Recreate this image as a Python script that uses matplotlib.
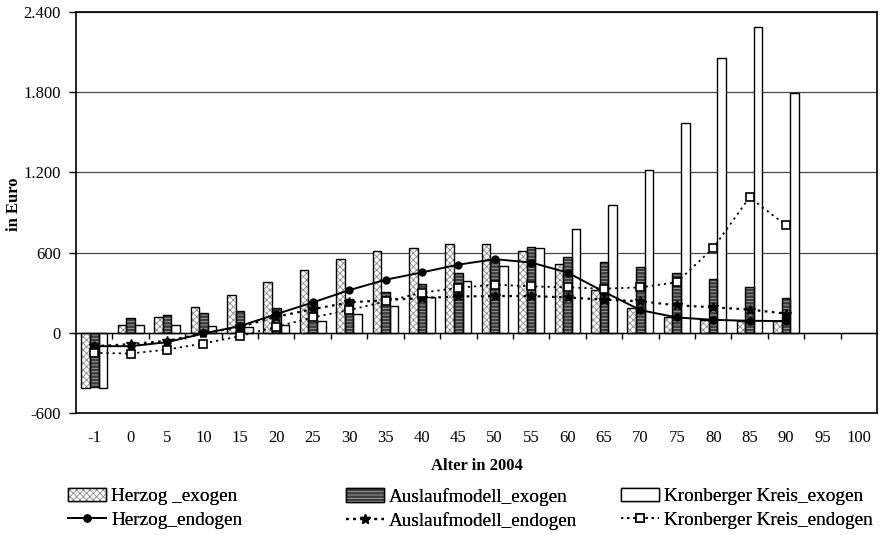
import numpy as np
import matplotlib
matplotlib.use("Agg")
import matplotlib.pyplot as plt
from matplotlib.patches import Patch
from matplotlib.legend_handler import HandlerTuple
from matplotlib.ticker import FuncFormatter

plt.rcParams['font.family'] = ['Liberation Serif', 'DejaVu Serif']
plt.rcParams['hatch.linewidth'] = 0.6

# age groups
ages = ['-1', '0', '5', '10', '15', '20', '25', '30', '35', '40', '45',
        '50', '55', '60', '65', '70', '75', '80', '85', '90', '95', '100']

nan = np.nan
# exogen (bars)
herzog_exo = [-415, 60, 116, 191, 284, 377, 467, 550, 612, 638, 662,
              668, 613, 518, 319, 185, 115, 95, 90, 90, nan, nan]
auslauf_exo = [-405, 110, 131, 146, 167, 184, 235, 250, 305, 367, 449,
               540, 643, 568, 533, 496, 451, 402, 346, 257, nan, nan]
kronberger_exo = [-415, 55, 55, 50, 40, 57, 88, 141, 199, 268, 386,
                  501, 633, 778, 958, 1220, 1568, 2055, 2287, 1792, nan, nan]
# endogen (lines)
herzog_endo = [-100, -100, -70, -5, 50, 140, 227, 319, 397, 452, 510,
               551, 526, 451, 307, 170, 115, 97, 90, 88, nan, nan]
auslauf_endo = [-100, -85, -60, -5, 45, 120, 177, 227, 245, 260, 272,
                275, 275, 265, 248, 236, 206, 191, 174, 144, nan, nan]
kronberger_endo = [-150, -155, -125, -80, -25, 45, 115, 170, 235, 300, 337,
                   360, 348, 340, 330, 340, 378, 634, 1014, 804, nan, nan]

x = np.arange(len(ages))
w = 0.236
fs = 12

fig = plt.figure(figsize=(8.81, 5.35), dpi=100)
ax = fig.add_axes([0.0863, 0.228, 0.9092, 0.7495])

# Herzog exogen: stippled
ax.bar(x - w, herzog_exo, w, color='white', hatch='xxxxx',
       edgecolor='#8a8a8a', linewidth=0, zorder=2)
ax.bar(x - w, herzog_exo, w, fill=False, edgecolor='black',
       linewidth=1.0, zorder=3)
# Auslaufmodell exogen: dark with stripes
ax.bar(x, auslauf_exo, w, color='#3c3c3c', hatch='-----',
       edgecolor='#a8a8a8', linewidth=0, zorder=2)
ax.bar(x, auslauf_exo, w, fill=False, edgecolor='black',
       linewidth=1.0, zorder=3)
# Kronberger Kreis exogen: empty
ax.bar(x + w, kronberger_exo, w, color='white', edgecolor='black',
       linewidth=1.0, zorder=2)

ln_h, = ax.plot(x, herzog_endo, '-', color='black', lw=1.4, marker='o',
                ms=5, zorder=5)
ln_a, = ax.plot(x, auslauf_endo, color='black', lw=1.6, ls=(0, (1.2, 2.0)),
                marker='*', ms=7, zorder=5)
ln_k, = ax.plot(x, kronberger_endo, color='black', lw=1.3, ls=(0, (1.2, 2.2)),
                marker='s', ms=6, mfc='white', mec='black', mew=1.2, zorder=5)

ax.set_xlim(-0.5, len(ages) - 0.5)
ax.set_ylim(-600, 2400)
ax.set_yticks([-600, 0, 600, 1200, 1800, 2400])
ax.yaxis.set_major_formatter(FuncFormatter(
    lambda v, p: f"{int(v):,}".replace(',', '.')))
ax.tick_params(axis='y', direction='out', length=5, width=1, labelsize=fs,
               pad=6)
ax.grid(axis='y', color='#4a4a4a', lw=0.9, zorder=0)
ax.set_axisbelow(True)

# zero line carries the category ticks
ax.spines['bottom'].set_position(('data', 0))
ax.spines['bottom'].set_linewidth(1.0)
ax.set_xticks([])
ax.set_xticks(x[:-1] + 0.5, minor=True)
ax.tick_params(axis='x', which='minor', direction='out', length=4, width=1)
for s in ['top', 'right', 'left']:
    ax.spines[s].set_linewidth(1.2)

sec = ax.secondary_xaxis('bottom')
sec.set_xticks(x)
sec.set_xticklabels(ages)
sec.tick_params(length=0, labelsize=fs, pad=12)
sec.spines['bottom'].set_linewidth(1.2)
sec.set_xlabel('Alter in 2004', fontsize=fs, fontweight='bold', labelpad=9)

ax.set_ylabel('in Euro', fontsize=fs, fontweight='bold')
ax.yaxis.set_label_coords(-0.067, 0.52)

h_patch = (Patch(facecolor='white', hatch='xxxxx', edgecolor='#8a8a8a', lw=0),
           Patch(fill=False, edgecolor='black', lw=1.0))
a_patch = (Patch(facecolor='#3c3c3c', hatch='-----', edgecolor='#a8a8a8', lw=0),
           Patch(fill=False, edgecolor='black', lw=1.0))
k_patch = Patch(facecolor='white', edgecolor='black', lw=1.0)

columns = [
    ([h_patch, ln_h], ['Herzog _exogen', 'Herzog_endogen'], 0.0772),
    ([a_patch, ln_a], ['Auslaufmodell_exogen', 'Auslaufmodell_endogen'], 0.3927),
    ([k_patch, ln_k], ['Kronberger Kreis_exogen', 'Kronberger Kreis_endogen'], 0.7049),
]
for hs, ls, x0 in columns:
    leg = fig.legend(hs, ls, loc='upper left', bbox_to_anchor=(x0, 0.088),
                     frameon=False, fontsize=13.8, borderpad=0,
                     borderaxespad=0,
                     handler_map={tuple: HandlerTuple(ndivide=1)},
                     handlelength=2.0, handletextpad=0.25, labelspacing=0.32)
    fig.add_artist(leg)

fig.savefig('out.png', dpi=100)
